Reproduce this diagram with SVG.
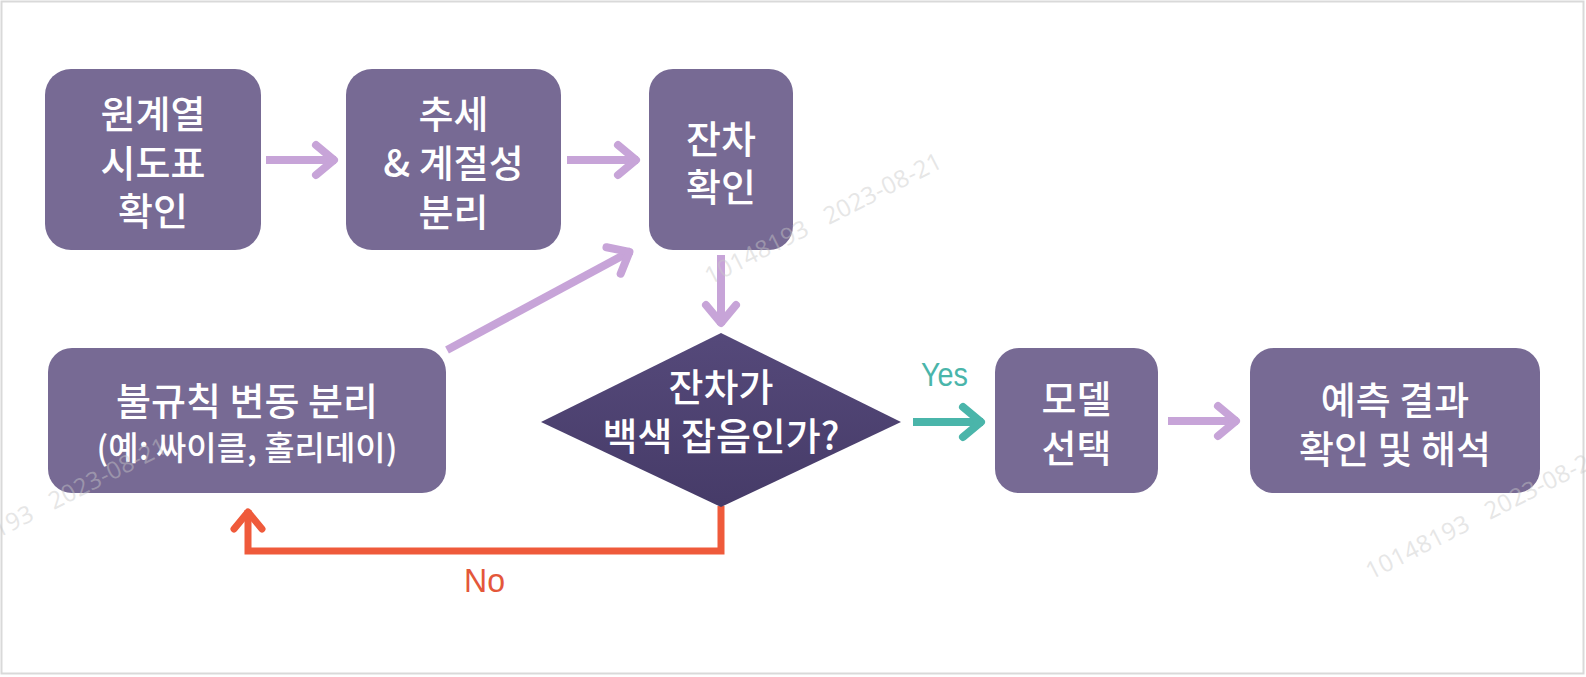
<svg xmlns="http://www.w3.org/2000/svg" width="1586" height="677" viewBox="0 0 1586 677">
<style>
.box{fill:#776a94;}
.lbl{font-family:"Noto Sans CJK KR","Noto Sans",sans-serif;font-size:38px;font-weight:500;fill:#ffffff;text-anchor:middle;}
.sm{font-size:33px;}
.ap{fill:none;stroke:#c7a4d8;stroke-width:8;}
.at{fill:none;stroke:#4ab5aa;stroke-width:8;}
.ar{fill:none;stroke:#ef5a3b;stroke-width:7;}
.wm{font-family:"Open Sans","DejaVu Sans",sans-serif;font-size:24px;fill:#c8c8c8;opacity:0.45;}
.en{font-family:"Liberation Sans",sans-serif;font-size:34px;}
</style>
<defs>
<marker id="hp" viewBox="-30 -25 40 50" markerWidth="40" markerHeight="50" refX="0" refY="0" orient="auto" markerUnits="userSpaceOnUse">
<path d="M-20,-15 L-2,0 L-20,15" fill="none" stroke="#c7a4d8" stroke-width="8" stroke-linecap="round" stroke-linejoin="round"/>
</marker>
<marker id="ht" viewBox="-30 -25 40 50" markerWidth="40" markerHeight="50" refX="0" refY="0" orient="auto" markerUnits="userSpaceOnUse">
<path d="M-20,-15 L-2,0 L-20,15" fill="none" stroke="#4ab5aa" stroke-width="8" stroke-linecap="round" stroke-linejoin="round"/>
</marker>
<marker id="hr" viewBox="-30 -25 40 50" markerWidth="40" markerHeight="50" refX="0" refY="0" orient="auto" markerUnits="userSpaceOnUse">
<path d="M-19,-14 L-2,0 L-19,14" fill="none" stroke="#ef5a3b" stroke-width="7" stroke-linecap="round" stroke-linejoin="round"/>
</marker>
<linearGradient id="dg" x1="0" y1="0" x2="0" y2="1">
<stop offset="0" stop-color="#55497a"/>
<stop offset="1" stop-color="#463b68"/>
</linearGradient>
</defs>
<rect x="0" y="0" width="1586" height="677" fill="#ffffff"/>
<rect x="1.5" y="1.5" width="1582" height="672" fill="none" stroke="#d9d9d9" stroke-width="2"/>

<g id="connectors">
<line class="ap" x1="266" y1="160" x2="336" y2="160" marker-end="url(#hp)"/>
<line class="ap" x1="567" y1="160" x2="638" y2="160" marker-end="url(#hp)"/>
<line class="ap" x1="721" y1="255" x2="721" y2="325" marker-end="url(#hp)"/>
<line class="ap" x1="447" y1="350" x2="631.2" y2="251" marker-end="url(#hp)"/>
<line class="at" x1="913" y1="422" x2="983" y2="422" marker-end="url(#ht)"/>
<line class="ap" x1="1168" y1="421" x2="1238" y2="421" marker-end="url(#hp)"/>
<path class="ar" d="M721,506 V551 H248 V510" marker-end="url(#hr)"/>
<text class="en" x="921" y="386" fill="#4ab5aa" textLength="47" lengthAdjust="spacingAndGlyphs">Yes</text>
<text class="en" x="464" y="592" fill="#e4573a" textLength="41" lengthAdjust="spacingAndGlyphs">No</text>
</g>

<g id="n1">
<rect class="box" x="45" y="69" width="216" height="181" rx="26"/>
<text class="lbl" x="153" y="128">원계열</text>
<text class="lbl" x="153" y="176.5">시도표</text>
<text class="lbl" x="153" y="225">확인</text>
</g>
<g id="n2">
<rect class="box" x="346" y="69" width="215" height="181" rx="26"/>
<text class="lbl" x="453.5" y="128">추세</text>
<text class="lbl" x="453.5" y="177">&amp; 계절성</text>
<text class="lbl" x="453.5" y="226">분리</text>
</g>
<g id="n3">
<rect class="box" x="649" y="69" width="144" height="181" rx="24"/>
<text class="lbl" x="721" y="152.5">잔차</text>
<text class="lbl" x="721" y="200.5">확인</text>
</g>
<g id="n4">
<polygon points="721,333 901,422 721,507 541,422" fill="url(#dg)"/>
<text class="lbl" x="721" y="401">잔차가</text>
<text class="lbl" x="721" y="450">백색 잡음인가?</text>
</g>
<g id="n5">
<rect class="box" x="48" y="348" width="398" height="145" rx="24"/>
<text class="lbl" x="247" y="415">불규칙 변동 분리</text>
<text class="lbl sm" x="247" y="460">(예: 싸이클, 홀리데이)</text>
</g>
<g id="n6">
<rect class="box" x="995" y="348" width="163" height="145" rx="24"/>
<text class="lbl" x="1076.5" y="413">모델</text>
<text class="lbl" x="1076.5" y="462">선택</text>
</g>
<g id="n7">
<rect class="box" x="1250" y="348" width="290" height="145" rx="24"/>
<text class="lbl" x="1395" y="414">예측 결과</text>
<text class="lbl" x="1395" y="463">확인 및 해석</text>
</g>

<g id="watermarks">
<text class="wm" x="710" y="285" transform="rotate(-26.8 710 285)" xml:space="preserve" textLength="262">10148193   2023-08-21</text>
<text class="wm" x="-65" y="570" transform="rotate(-26.8 -65 570)" xml:space="preserve" textLength="262">10148193   2023-08-21</text>
<text class="wm" x="1371" y="580" transform="rotate(-26.8 1371 580)" xml:space="preserve" textLength="262">10148193   2023-08-21</text>
</g>
</svg>
